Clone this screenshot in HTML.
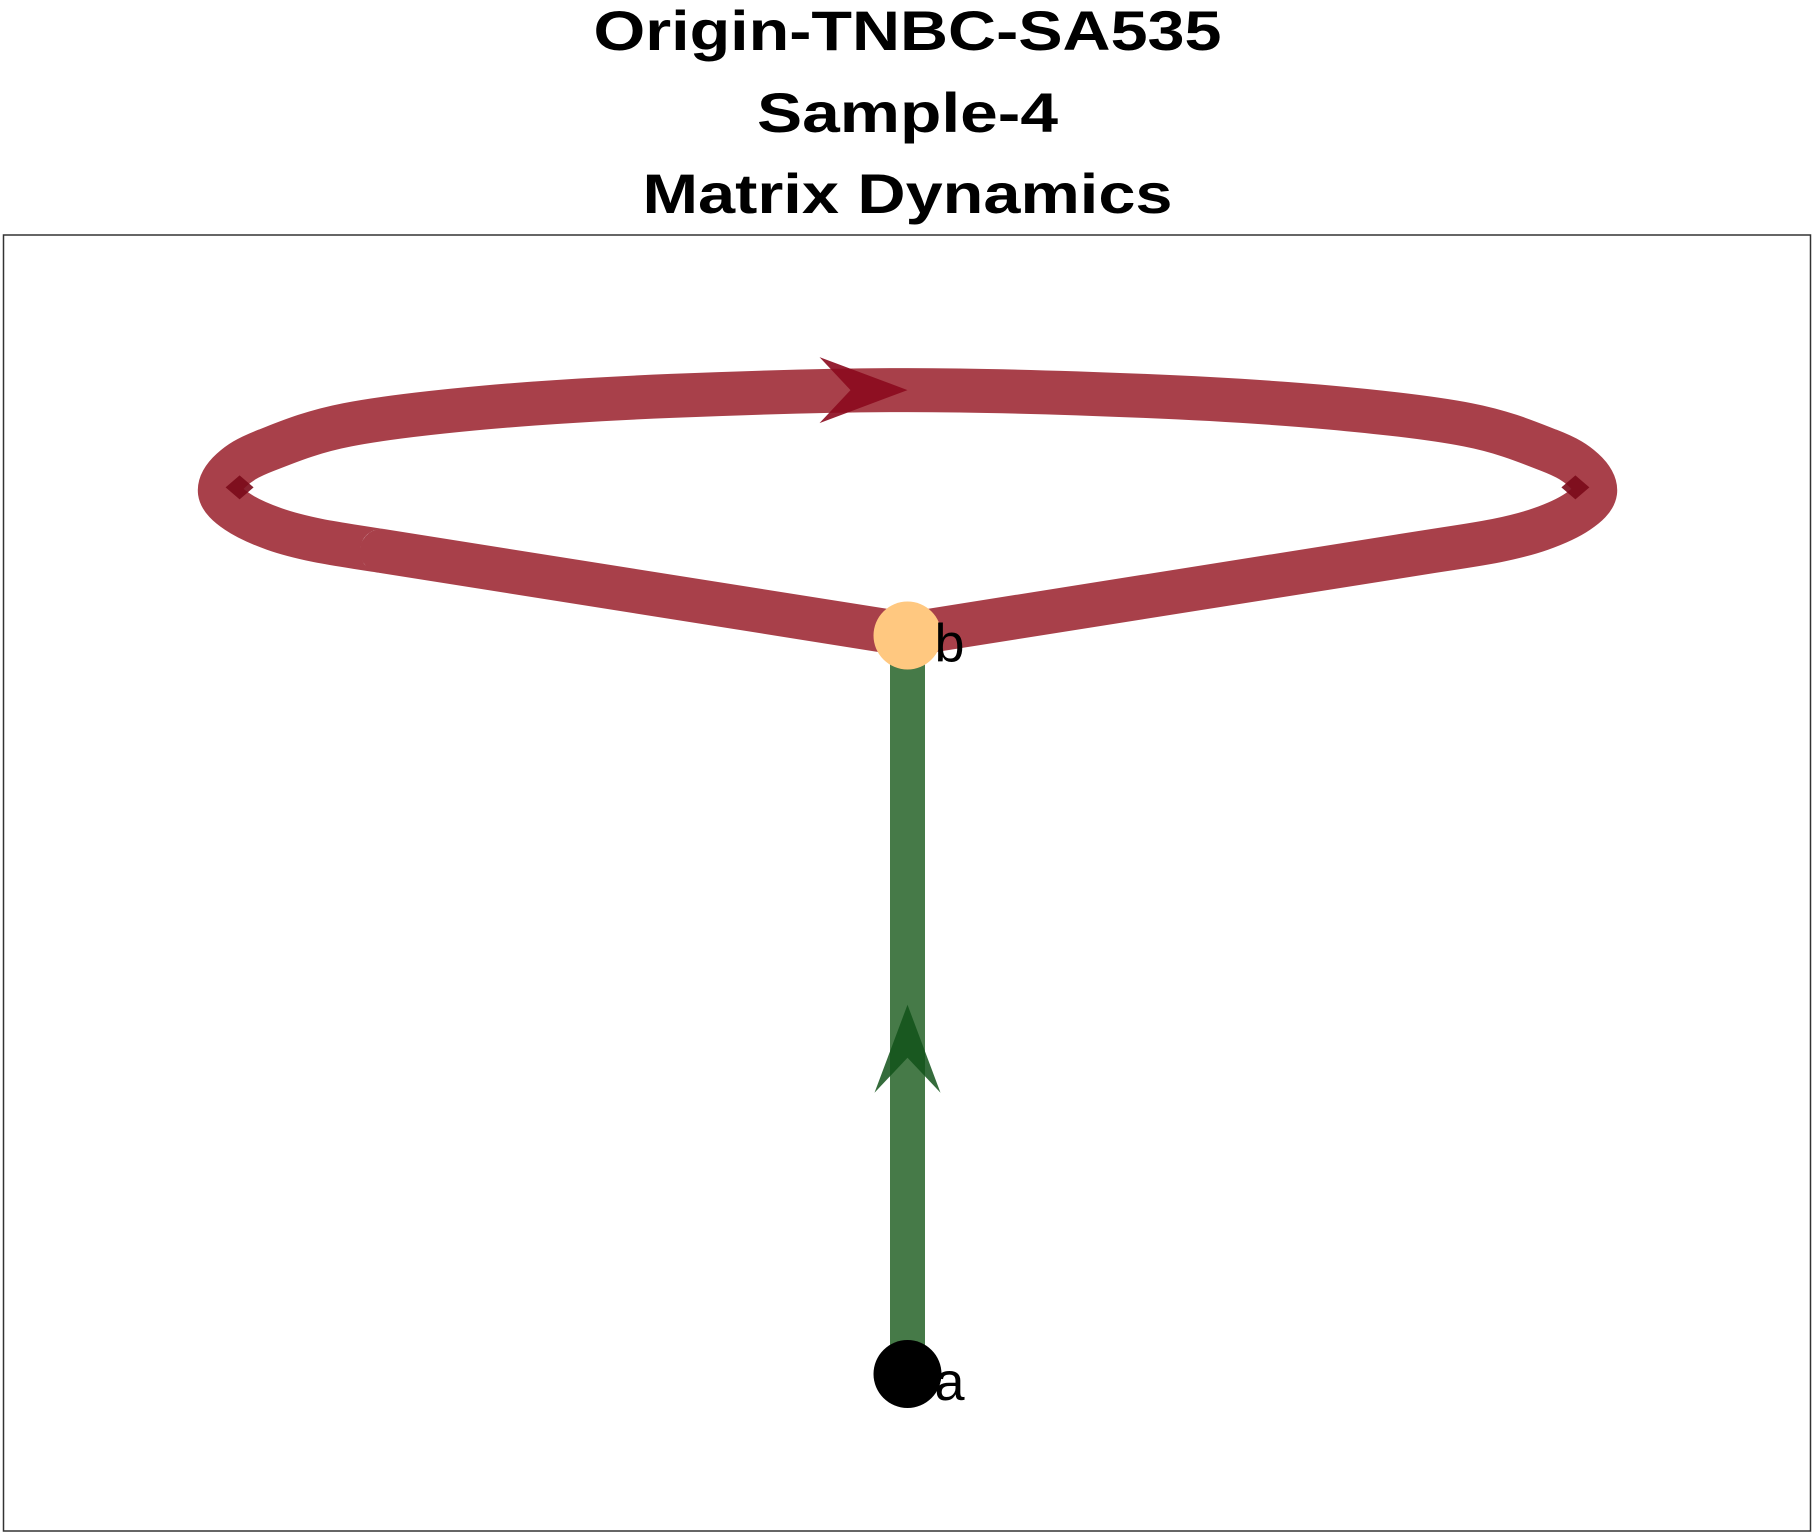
<!DOCTYPE html>
<html><head><meta charset="utf-8"><style>
html,body{margin:0;padding:0;background:#fff;}
svg{display:block;}
</style></head><body>
<svg id="chart" width="1815" height="1535" viewBox="0 0 1815 1535" xmlns="http://www.w3.org/2000/svg">
<g font-family="Liberation Sans, sans-serif" font-weight="bold" font-size="56" text-anchor="middle" fill="#000">
<text x="907.5" y="50" textLength="628" lengthAdjust="spacingAndGlyphs">Origin-TNBC-SA535</text>
<text x="907.5" y="132" textLength="301" lengthAdjust="spacingAndGlyphs">Sample-4</text>
<text x="907.5" y="213" textLength="530" lengthAdjust="spacingAndGlyphs">Matrix Dynamics</text>
</g>
<rect x="3.5" y="235" width="1807" height="1296" fill="none" stroke="#333" stroke-width="1.5"/>
<g id="marks"></g>
</svg>
<script>
// data coordinates (plot units)
const loopX = [784,330,275,237,205,190,200,230,300,420,580,784,988,1148,1268,1338,1368,1378,1363,1331,1293,1238,784];
const loopY = [548,476,467,457,442,425,406,389,367,352,342,337,342,352,367,389,406,425,442,457,467,476,548];
const stemX = [784,784];
const stemY = [1187,549];
const nodeNames = ['a','b'];
const nodeX = [784,784];
const nodeY = [1187,549];
const nodeColors = ['#000000','#FFC880'];

const K = 1815/1568;
function sx(v){return v*K;}
function sy(v){return v*K;}
const NS='http://www.w3.org/2000/svg';
const g=document.getElementById('marks');
function mk(t,a){const e=document.createElementNS(NS,t);for(const k in a)e.setAttribute(k,a[k]);g.appendChild(e);return e;}

// red loop (smoothed with Catmull-Rom, except corners at b)
const P=loopX.map((x,i)=>[sx(x),sy(loopY[i])]);
let d='M'+P[0][0]+','+P[0][1]+' L'+P[1][0]+','+P[1][1];
for(let i=1;i<P.length-2;i++){
  const p0=P[i-1],p1=P[i],p2=P[i+1],p3=P[i+2];
  const t=i===1?[p1[0],p1[1]]:[p1[0]+(p2[0]-p0[0])/6,p1[1]+(p2[1]-p0[1])/6];
  const u=i===P.length-3?[p2[0],p2[1]]:[p2[0]-(p3[0]-p1[0])/6,p2[1]-(p3[1]-p1[1])/6];
  d+=` C${t[0].toFixed(1)},${t[1].toFixed(1)} ${u[0].toFixed(1)},${u[1].toFixed(1)} ${p2[0].toFixed(1)},${p2[1].toFixed(1)}`;
}
d+=' L'+P[P.length-1][0]+','+P[P.length-1][1];
const loop=mk('path',{d:d,fill:'none',stroke:'#A8404A',"stroke-width":44,"stroke-linejoin":'round',"stroke-linecap":'round'});



// top arrow head
const ax=sx(loopX[11]), ay=sy(loopY[11]);
const ah=mk('path',{d:`M${ax},${ay} L${ax-88},${ay-33} L${ax-57},${ay} L${ax-88},${ay+33} Z`,fill:'#8B0A1E',"fill-opacity":0.9});


[5,17].forEach(i=>{
  const cx=sx(loopX[i]+(i===5?17:-17)), cy=sy(loopY[i]-4);
  const s=mk('path',{d:`M${cx-14},${cy} L${cx},${cy-12} L${cx+14},${cy} L${cx},${cy+12} Z`,fill:'#7A0A1A',"fill-opacity":0.9});
  
  
});

// green stem
const st=mk('line',{x1:sx(stemX[0]),y1:sy(stemY[0]),x2:sx(stemX[1]),y2:sy(stemY[1]),stroke:'#467A48',"stroke-width":35});


const gx=sx(stemX[0]), gy=sy((stemY[0]+stemY[1])/2)+130;
const ga=mk('path',{d:`M${gx},${gy-130} L${gx+33},${gy-42} L${gx},${gy-77} L${gx-33},${gy-42} Z`,fill:'#12521A',"fill-opacity":0.85});



// nodes
nodeNames.forEach((n,i)=>{
  const c=mk('circle',{cx:sx(nodeX[i]),cy:sy(nodeY[i]),r:34,fill:nodeColors[i]});
  
  
  const t=mk('text',{x:sx(nodeX[i])+27,y:sy(nodeY[i])+26,"font-family":'Liberation Sans, sans-serif',"font-size":54,fill:'#000'});
  t.textContent=n;
  
  
});
</script>
</body></html>
